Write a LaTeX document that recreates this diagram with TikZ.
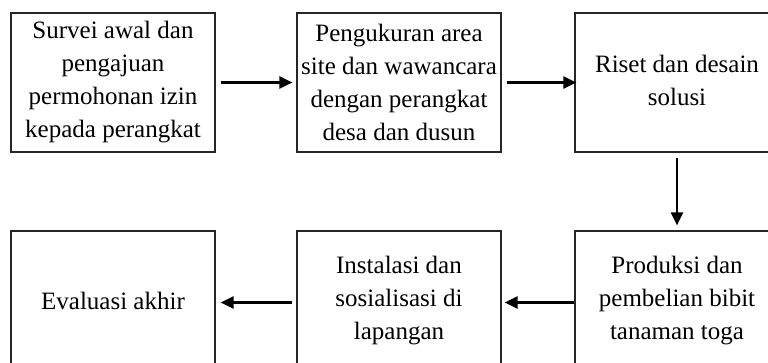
\documentclass[tikz,border=0pt]{standalone}
\usepackage{fontspec}
\setmainfont{Liberation Serif}
\usetikzlibrary{arrows.meta}
\begin{document}
\begin{tikzpicture}[x=1pt,y=-1pt]
        \tikzstyle{every node}+=[inner sep=0pt]
        \tikzstyle{kotak}=[draw=black!85, line width=1.2pt, minimum width=204pt, minimum height=139pt, align=center, font=\fontsize{25}{33}\selectfont]
        \tikzstyle{panah}=[black, line width=2.2pt, -{Triangle[length=13pt,width=12pt]}]
        \useasboundingbox (0,0) rectangle (768,362);
        \clip (0,0) rectangle (768,362);
        \node [kotak] (survei) at (113,82.5) {Survei awal dan\\pengajuan\\permohonan izin\\kepada perangkat};
        \node [kotak] (ukur) at (399,82.5) {Pengukuran area\\site dan wawancara\\dengan perangkat\\desa dan dusun};
        \node [kotak] (riset) at (677,82.5) {Riset dan desain\\solusi\\[-29pt]};
        \node [kotak] (produksi) at (677,300.5) {Produksi dan\\pembelian bibit\\tanaman toga};
        \node [kotak] (instalasi) at (399,300.5) {Instalasi dan\\sosialisasi di\\lapangan};
        \node [kotak] (evaluasi) at (113,300.5) {Evaluasi akhir};
        \draw [panah, shorten <=5pt, shorten >=4pt] (survei.east) -- (ukur.west);
        \draw [panah, shorten <=5pt, shorten >=-2pt] (ukur.east) -- (riset.west);
        \draw [panah, shorten <=5pt, shorten >=5pt] (riset.south) -- (produksi.north);
        \draw [panah, shorten >=3pt] ([yshift=-2pt]produksi.west) -- ([yshift=-2pt]instalasi.east);
        \draw [panah, shorten <=4pt, shorten >=5pt] ([yshift=-2pt]instalasi.west) -- ([yshift=-2pt]evaluasi.east);
\end{tikzpicture}
\end{document}
